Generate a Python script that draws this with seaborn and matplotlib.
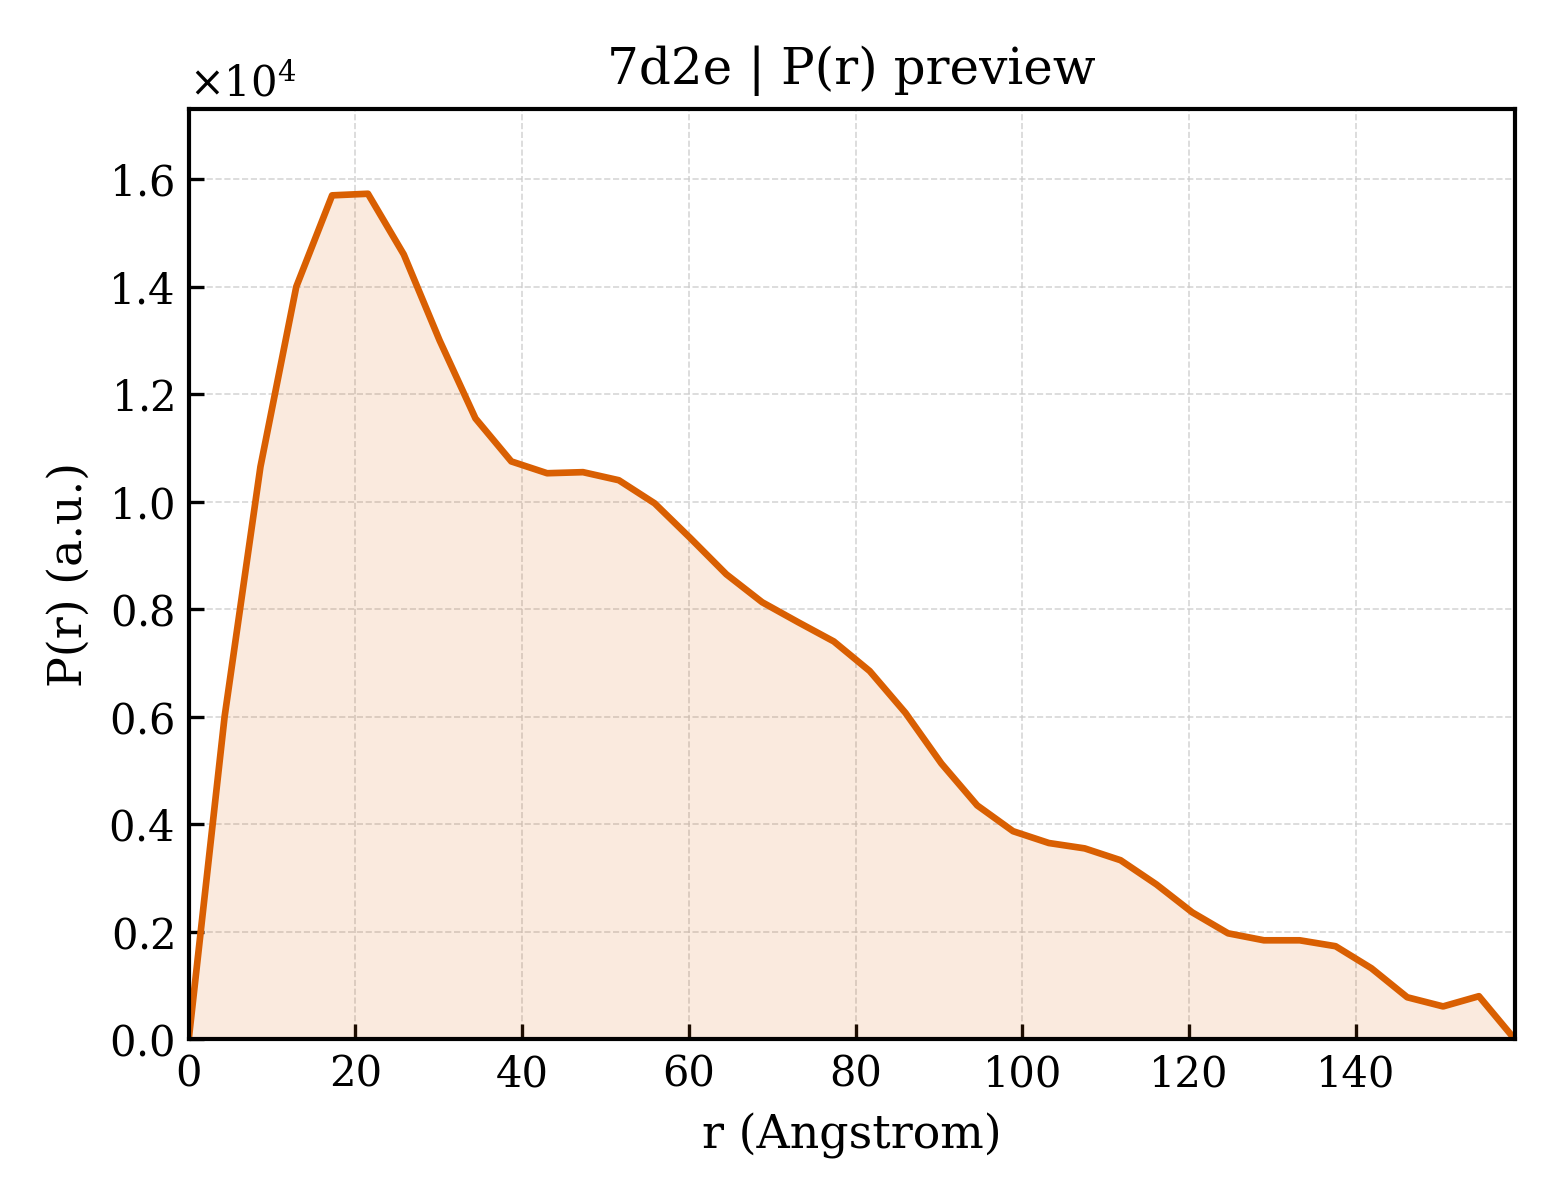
import numpy as np
import pandas as pd
import matplotlib
matplotlib.use("Agg")
import matplotlib.pyplot as plt
import seaborn as sns
from matplotlib.ticker import ScalarFormatter

# P(r) values read from the preview (r in Angstrom, P(r) in units of 1e4)
r_vals = [0.0, 4.3, 8.6, 12.9, 17.2, 21.5, 25.8, 30.1, 34.4, 38.7,
          43.0, 47.3, 51.6, 55.9, 60.2, 64.5, 68.8, 73.1, 77.4, 81.7,
          86.0, 90.3, 94.6, 98.9, 103.2, 107.5, 111.8, 116.1, 120.4, 124.7,
          129.0, 133.3, 137.6, 141.9, 146.2, 150.5, 154.8, 159.1]
pr_vals = [0.0, 0.600, 1.065, 1.400, 1.570, 1.573, 1.460, 1.300, 1.155, 1.075,
           1.053, 1.055, 1.040, 0.997, 0.932, 0.865, 0.813, 0.776, 0.740, 0.685,
           0.607, 0.513, 0.435, 0.387, 0.365, 0.355, 0.333, 0.288, 0.236, 0.197,
           0.184, 0.184, 0.173, 0.132, 0.078, 0.061, 0.080, 0.0]

df = pd.DataFrame({"r": r_vals, "pr": np.array(pr_vals) * 1e4})

sns.set_style("ticks")
plt.rcParams["font.family"] = ["DejaVu Serif"]
plt.rcParams["mathtext.fontset"] = "dejavuserif"
plt.rcParams["text.color"] = "black"
plt.rcParams["axes.labelcolor"] = "black"
plt.rcParams["xtick.color"] = "black"
plt.rcParams["ytick.color"] = "black"

cor = "#d95f02"

fig, ax = plt.subplots(figsize=(5.2, 4.0), dpi=300)
fig.subplots_adjust(left=0.121, right=0.971, bottom=0.134, top=0.909)

ax.fill_between(df["r"], df["pr"], 0, color=cor, alpha=0.13, linewidth=0)
sns.lineplot(data=df, x="r", y="pr", ax=ax, color=cor, linewidth=1.6)

ax.set_xlim(0, df["r"].max())
ax.set_ylim(0, df["pr"].max() * 1.1)

fmt = ScalarFormatter(useMathText=True)
fmt.set_powerlimits((0, 0))
ax.yaxis.set_major_formatter(fmt)

ax.grid(True, linestyle="--", linewidth=0.4, color="#cccccc", alpha=0.8)
ax.tick_params(direction="in", top=False, right=False, labelsize=10,
               colors="black")
for s in ax.spines.values():
    s.set_linewidth(1.0)
    s.set_color("black")

ax.set_title("7d2e | P(r) preview", fontsize=12)
ax.set_xlabel("r (Angstrom)", fontsize=11)
ax.set_ylabel("P(r) (a.u.)", fontsize=11)
ax.yaxis.get_offset_text().set_fontsize(10)
ax.yaxis.get_offset_text().set_color("black")

plt.savefig("out.png", dpi=300)
